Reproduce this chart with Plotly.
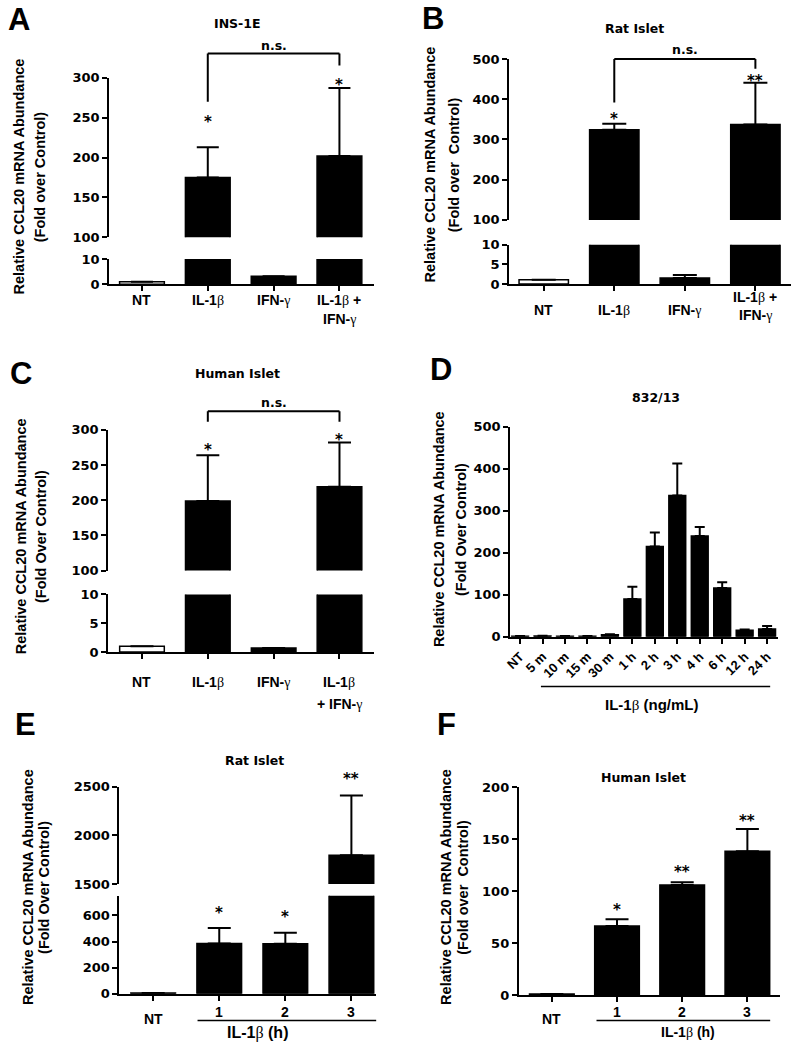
import plotly.graph_objects as go

W, H = 793, 1050

# ---------------- data ----------------
cats_A = ["NT", "IL-1β", "IFN-γ", "IL-1β + IFN-γ"]
vals_A = [1, 175, 3.2, 202]
err_A = [0, 38, 0, 85]
stars_A = ["", "*", "", "*"]

cats_B = ["NT", "IL-1β", "IFN-γ", "IL-1β + IFN-γ"]
vals_B = [1.1, 324, 1.5, 337]
err_B = [0, 15, 0.8, 104]
stars_B = ["", "*", "", "**"]

cats_C = ["NT", "IL-1β", "IFN-γ", "IL-1β + IFN-γ"]
vals_C = [1, 199, 0.7, 219]
err_C = [0, 65, 0, 63]
stars_C = ["", "*", "", "*"]

cats_D = ["NT", "5 m", "10 m", "15 m", "30 m", "1 h", "2 h", "3 h", "4 h", "6 h", "12 h", "24 h"]
vals_D = [1.5, 2, 1.5, 1.5, 5, 90, 215, 336, 240, 116, 16, 19]
err_D = [0.5, 0.5, 0.5, 0.5, 1.5, 29, 33, 76, 21, 14, 1.5, 7]

cats_E = ["NT", "1", "2", "3"]
vals_E = [5, 386, 383, 1796]
err_E = [0, 118, 84, 613]
stars_E = ["", "*", "*", "**"]

cats_F = ["NT", "1", "2", "3"]
vals_F = [1, 66.5, 106, 138.5]
err_F = [0, 6.5, 2.5, 21.5]
stars_F = ["", "*", "**", "**"]

# ---------------- style ----------------
SANS = "Liberation Sans, Arial, sans-serif"
WIDE = "DejaVu Sans, Verdana, sans-serif"
SERIF_SPAN = "<span style=\"font-family:'Liberation Serif';font-weight:normal\">%s</span>"


def greek(s):
    return s.replace("β", SERIF_SPAN % "β").replace("γ", SERIF_SPAN % "γ")


def X(p):
    return p / W


def Y(p):
    return 1 - p / H


panels = [
    dict(xid=1, xdom=(104, 371), xr=(-0.4975, 3.528), bw=0.68, cap=11,
         cats=cats_A, vals=vals_A, errs=err_A, stars=stars_A, star_dy=[0, 28, 0, 6],
         fills=["white", "black", "black", "black"],
         segs=[dict(yid=1, dom=(255.7, 281.3), rng=(0, 10), tv=[0, 10]),
               dict(yid=2, dom=(71.7, 233.7), rng=(100, 300), tv=[100, 150, 200, 250, 300])],
         xl=[["NT"], ["IL-1β"], ["IFN-γ"], ["IL-1β +", "IFN-γ"]], xly=[297, 297, 297, 297], gap=20,
         letter=("A", 0, 13), title=("INS-1E", 233, 17),
         ytitle=(13, 34, 172, "(Fold over Control)"),
         bracket=(1, 3, 47.3, 96, 59.3, 39)),
    dict(xid=2, xdom=(507, 791), xr=(-0.49, 3.505), bw=0.70, cap=12,
         cats=cats_B, vals=vals_B, errs=err_B, stars=stars_B, star_dy=[0, 8, 0, 5],
         fills=["white", "black", "black", "black"],
         segs=[dict(yid=3, dom=(241.3, 281), rng=(0, 10), tv=[0, 5, 10]),
               dict(yid=4, dom=(52.7, 216), rng=(100, 500), tv=[100, 200, 300, 400, 500])],
         xl=[["NT"], ["IL-1β"], ["IFN-γ"], ["IL-1β +", "IFN-γ"]], xly=[307, 307, 307, 294], gap=18,
         letter=("B", 417, 11.5), title=("Rat Islet", 633, 22),
         ytitle=(427, 451, 160, "(Fold over  Control)"),
         bracket=(1, 3, 52.7, 97, 62.7, 43)),
    dict(xid=3, xdom=(103, 371), xr=(-0.5127, 3.527), bw=0.678, cap=11.5,
         cats=cats_C, vals=vals_C, errs=err_C, stars=stars_C, star_dy=[0, 8, 0, 6],
         fills=["white", "black", "black", "black"],
         segs=[dict(yid=5, dom=(596, 654.3), rng=(0, 10), tv=[0, 5, 10]),
               dict(yid=6, dom=(429, 571.7), rng=(100, 300), tv=[100, 150, 200, 250, 300])],
         xl=[["NT"], ["IL-1β"], ["IFN-γ"], ["IL-1β", "+ IFN-γ"]], xly=[685, 685, 685, 685], gap=22,
         letter=("C", 2, 372), title=("Human Islet", 233, 372),
         ytitle=(15, 36, 537, "(Fold Over Control)"),
         bracket=(1, 3, 410, 420.7, 420.7, 401.7)),
    dict(xid=4, xdom=(508, 778), xr=(-0.442, 11.49), bw=0.75, cap=5,
         cats=cats_D, vals=vals_D, errs=err_D, stars=None, star_dy=None,
         fills=["black"] * 12,
         segs=[dict(yid=7, dom=(425.7, 639), rng=(0, 500), tv=[0, 100, 200, 300, 400, 500])],
         xl=None, xly=None, gap=0,
         letter=("D", 425, 368), title=("832/13", 655, 396),
         ytitle=(437, 459, 530, "(Fold Over Control)"),
         bracket=None,
         under=(539, 770, 689.3, "IL-1β (ng/mL)", 650, 708, 15)),
    dict(xid=5, xdom=(114.3, 373), xr=(-0.5107, 3.375), bw=0.676, cap=11.5,
         cats=cats_E, vals=vals_E, errs=err_E, stars=stars_E, star_dy=[0, 18, 19, 20],
         fills=["black"] * 4,
         segs=[dict(yid=8, dom=(901.7, 1001), rng=(0, 751), tv=[0, 200, 400, 600]),
               dict(yid=9, dom=(791, 889.7), rng=(1500, 2500), tv=[1500, 2000, 2500])],
         xl=[["NT"], ["1"], ["2"], ["3"]], xly=[1027, 1020, 1020, 1020], gap=0,
         letter=("E", 7, 728), title=("Rat Islet", 250, 764),
         ytitle=(22, 39, 893, "(Fold Over Control)"),
         bracket=None,
         under=(193, 373, 1028.3, "IL-1β (h)", 253, 1041, 16)),
    dict(xid=6, xdom=(516.7, 780), xr=(-0.507, 3.502), bw=0.685, cap=11.5,
         cats=cats_F, vals=vals_F, errs=err_F, stars=stars_F, star_dy=[0, 12, 13, 11],
         fills=["black"] * 4,
         segs=[dict(yid=10, dom=(791.7, 1002.3), rng=(0, 200), tv=[0, 50, 100, 150, 200])],
         xl=[["NT"], ["1"], ["2"], ["3"]], xly=[1027, 1020, 1020, 1020], gap=0,
         letter=("F", 432, 728), title=("Human Islet", 642, 782),
         ytitle=(444, 461, 893, "(Fold over  Control)"),
         bracket=None,
         under=(595, 770, 1028.3, "IL-1β (h)", 687, 1040, 14)),
]

fig = go.Figure()
layout = dict(width=W, height=H, margin=dict(l=0, r=0, t=0, b=0), autosize=False,
              paper_bgcolor="white", plot_bgcolor="rgba(0,0,0,0)", showlegend=False,
              font=dict(family=SANS, size=14, color="black", weight="bold"))
annotations = []
shapes = []


def ykey(i):
    return "yaxis" if i == 1 else "yaxis%d" % i


def yname(i):
    return "y" if i == 1 else "y%d" % i


for p in panels:
    n = len(p["cats"])
    xkey = "xaxis" if p["xid"] == 1 else "xaxis%d" % p["xid"]
    xref = "x" if p["xid"] == 1 else "x%d" % p["xid"]
    lower = p["segs"][0]
    showlab = p["xl"] is None
    layout[xkey] = dict(domain=[X(p["xdom"][0]), X(p["xdom"][1])], anchor=yname(lower["yid"]),
                        type="category", categoryorder="array", categoryarray=p["cats"],
                        range=list(p["xr"]), showline=True, linecolor="black", linewidth=2,
                        ticks="outside", ticklen=5, tickwidth=2, tickcolor="black",
                        showgrid=False, zeroline=False, showticklabels=showlab,
                        tickangle=-45 if showlab else 0,
                        tickfont=dict(family=SANS, size=13, weight="bold"), fixedrange=True)
    for seg in p["segs"]:
        layout[ykey(seg["yid"])] = dict(domain=[Y(seg["dom"][1]), Y(seg["dom"][0])], anchor=xref,
                                        range=list(seg["rng"]), tickmode="array", tickvals=seg["tv"],
                                        showline=True, linecolor="black", linewidth=2,
                                        ticks="outside", ticklen=5, tickwidth=2, tickcolor="black",
                                        showgrid=False, zeroline=False, fixedrange=True,
                                        tickfont=dict(family=WIDE, size=13, weight="bold"),
                                        ticklabelstandoff=0)
        fig.add_trace(go.Bar(x=p["cats"], y=p["vals"], xaxis=xref, yaxis=yname(seg["yid"]),
                             width=p["bw"],
                             marker=dict(color=p["fills"], line=dict(color="black", width=1.5)),
                             error_y=dict(type="data", symmetric=False, array=p["errs"],
                                          arrayminus=[0] * n, color="black", thickness=2,
                                          width=p["cap"]),
                             hoverinfo="skip"))
    # stars
    if p["stars"]:
        for c, v, e, s, dy in zip(p["cats"], p["vals"], p["errs"], p["stars"], p["star_dy"]):
            if not s:
                continue
            top = v + e
            seg = lower
            for sg in p["segs"]:
                if sg["rng"][0] <= top <= sg["rng"][1]:
                    seg = sg
            annotations.append(dict(x=c, y=top, xref=xref, yref=yname(seg["yid"]), text=s,
                                    showarrow=False, yanchor="middle", yshift=dy - 3,
                                    font=dict(family=WIDE, size=15, weight="bold")))
    # x labels
    if p["xl"]:
        for c, lines, y0 in zip(p["cats"], p["xl"], p["xly"]):
            for k, ln in enumerate(lines):
                annotations.append(dict(x=c, xref=xref, y=Y(y0 + k * p["gap"]), yref="paper",
                                        text=greek(ln), showarrow=False, yanchor="middle",
                                        xanchor="center", font=dict(family=SANS, size=14, weight="bold")))
    # panel letter
    L, lx, ly = p["letter"]
    annotations.append(dict(x=X(lx), y=Y(ly), xref="paper", yref="paper", text=L, showarrow=False,
                            xanchor="left", yanchor="middle", font=dict(family=SANS, size=31, weight="bold")))
    # title
    t, tx, ty = p["title"]
    annotations.append(dict(x=X(tx), y=Y(ty), xref="paper", yref="paper", text=t, showarrow=False,
                            xanchor="center", yanchor="middle", font=dict(family=WIDE, size=12.5, weight="bold")))
    # y titles
    x1, x2, yc, t2 = p["ytitle"]
    for xx, tt in ((x1, "Relative CCL20 mRNA Abundance"), (x2, t2)):
        annotations.append(dict(x=X(xx), y=Y(yc), xref="paper", yref="paper", text=tt.replace("  ", " &nbsp;"),
                                showarrow=False, textangle=-90, xanchor="center", yanchor="middle",
                                font=dict(family=SANS, size=14.5, weight="bold")))
    # bracket
    if p["bracket"]:
        i0, i1, yh, yl0, yl1, yns = p["bracket"]
        c0, c1 = p["cats"][i0], p["cats"][i1]
        ln = dict(color="black", width=2)
        shapes.append(dict(type="line", xref=xref, yref="paper", x0=c0, x1=c1, y0=Y(yh), y1=Y(yh), line=ln))
        shapes.append(dict(type="line", xref=xref, yref="paper", x0=c0, x1=c0, y0=Y(yh), y1=Y(yl0), line=ln))
        shapes.append(dict(type="line", xref=xref, yref="paper", x0=c1, x1=c1, y0=Y(yh), y1=Y(yl1), line=ln))
        annotations.append(dict(x=(i0 + i1) / 2, xref=xref, y=Y(yns), yref="paper", text="n.s.",
                                showarrow=False, xanchor="center", yanchor="middle",
                                font=dict(family=WIDE, size=12.5, weight="bold")))
    # underline + group label
    if p.get("under"):
        ux0, ux1, uy, ut, tx, ty, fs = p["under"]
        shapes.append(dict(type="line", xref="paper", yref="paper", x0=X(ux0), x1=X(ux1),
                           y0=Y(uy), y1=Y(uy), line=dict(color="black", width=1.5)))
        annotations.append(dict(x=X(tx), y=Y(ty), xref="paper", yref="paper", text=greek(ut),
                                showarrow=False, xanchor="center", yanchor="middle",
                                font=dict(family=SANS, size=fs, weight="bold")))

layout["annotations"] = annotations
layout["shapes"] = shapes
layout["bargap"] = 0
fig.update_layout(**layout)
fig.write_html("out.html",
               config={"displayModeBar": False, "responsive": False, "staticPlot": True},
               post_script="document.documentElement.style.margin='0';document.documentElement.style.overflow='hidden';"
                           "document.body.style.margin='0';document.body.style.padding='0';"
                           "document.body.style.overflow='hidden';"
                           "var d=document.getElementById('{plot_id}');"
                           "d.style.position='fixed';d.style.left='0px';d.style.top='0px';")
